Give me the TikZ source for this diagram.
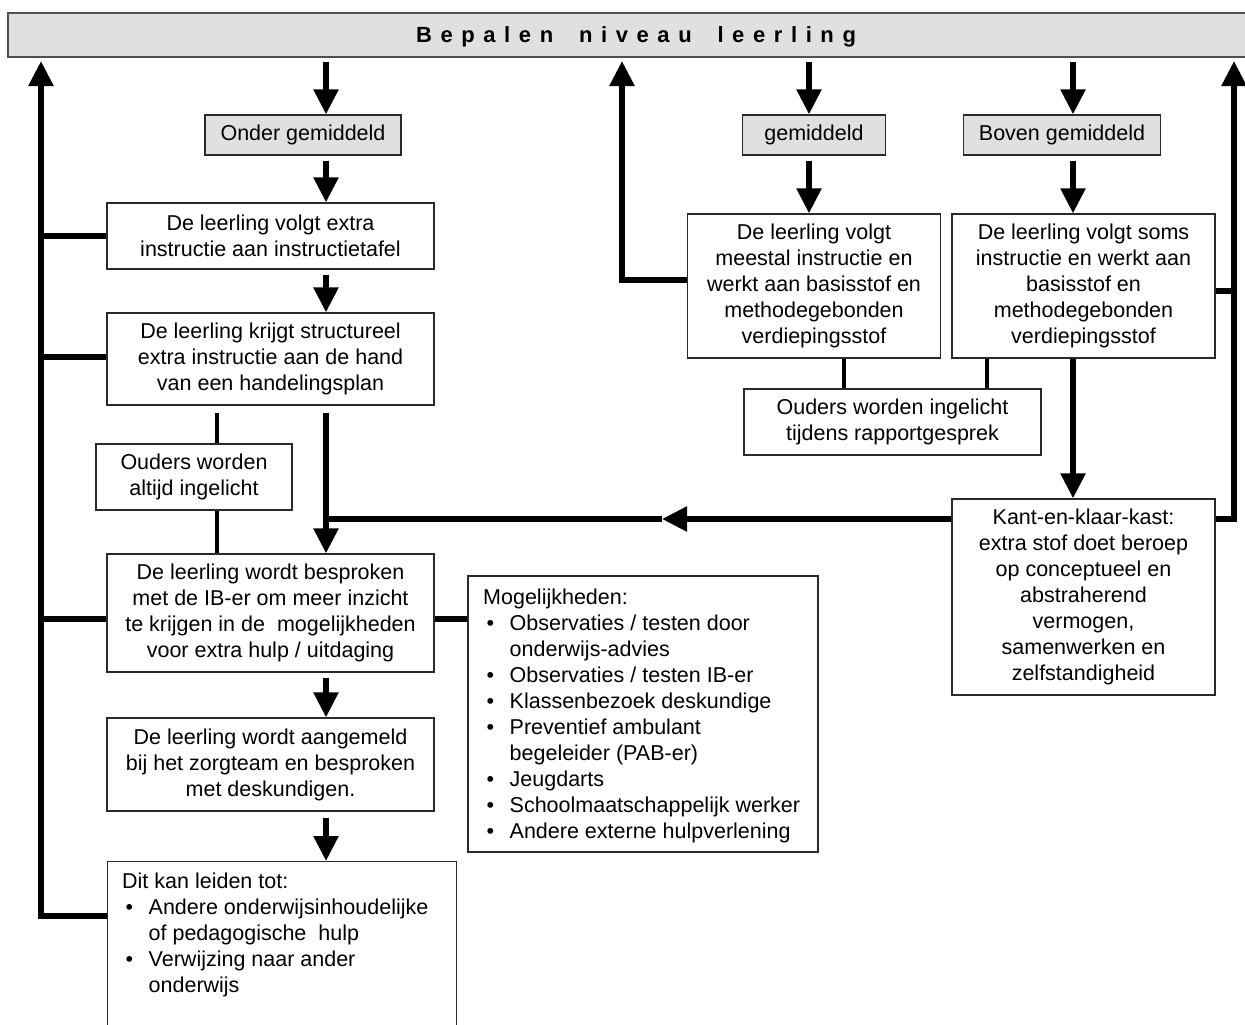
\documentclass[tikz,border=0pt]{standalone}
\usepackage{fontspec}
\setmainfont{Liberation Sans}
\usetikzlibrary{arrows.meta,calc}
\definecolor{boxgray}{HTML}{E0E0E0}
\definecolor{edge}{HTML}{2A2A2A}
\definecolor{barline}{HTML}{505050}
\newcommand\bfont{\fontsize{21.5pt}{26pt}\selectfont}
\newcommand\bulit{\makebox[26.5pt][l]{\hspace{3.5pt}•}}
\newcommand\indit{\hspace*{26.5pt}}
\begin{document}
\begin{tikzpicture}[x=1pt,y=-1pt,
  box/.style={draw=edge, line width=1.3pt, fill=white, align=center, inner sep=0pt, font=\bfont},
  graybox/.style={box, fill=boxgray},
  txt/.style={anchor=west, align=left, inner sep=0pt, font=\bfont},
  conn/.style={line width=5.5pt, black, line join=miter},
  thinconn/.style={line width=4.5pt, black},
  arr/.style={conn, -{Triangle[length=25pt,width=24pt]}},
]
\useasboundingbox (0,0) rectangle (1245,1025);
\clip (0,0) rectangle (1245,1025);
\fill[white] (0,0) rectangle (1245,1025);

% top bar
\node[draw=barline, line width=1.6pt, fill=boxgray, minimum width=1262pt, minimum height=44pt, anchor=north west, inner sep=0pt] (bar) at (7,12) {};
\node[font=\fontsize{22pt}{26pt}\selectfont\bfseries, inner sep=0pt, anchor=base] (title) at (636,43) {\spaceskip=8.6pt B e p a l e n\hspace{25.8pt}n i v e a u\hspace{25.8pt}l e e r l i n g};

% level boxes
\node[graybox, minimum width=196pt, minimum height=40pt] (onder) at (303,135) {Onder gemiddeld};
\node[graybox, minimum width=143pt, minimum height=40pt] (gem) at (814,135) {gemiddeld};
\node[graybox, minimum width=197pt, minimum height=40pt] (boven) at (1062,135) {Boven gemiddeld};

% left column
\node[box, minimum width=327pt, minimum height=66pt] (extra) at (270.5,236) {De leerling volgt extra\\instructie aan instructietafel};
\node[box, minimum width=327pt, minimum height=92pt] (krijgt) at (270.5,359) {De leerling krijgt structureel\\extra instructie aan de hand\\van een handelingsplan};
\node[box, minimum width=196pt, minimum height=66pt] (ouders1) at (194,477) {Ouders worden\\altijd ingelicht};
\node[box, minimum width=327pt, minimum height=118pt] (bespr) at (270.5,613) {De leerling wordt besproken\\met de IB-er om meer inzicht\\te krijgen in de \ mogelijkheden\\voor extra hulp / uitdaging};
\node[box, minimum width=327pt, minimum height=93pt] (aanm) at (270.5,764.5) {De leerling wordt aangemeld\\bij het zorgteam en besproken\\met deskundigen.};
\node[box, minimum width=349pt, minimum height=200pt, anchor=north west] (dit) at (107,861) {};
\node[txt] (dittext) at (122,935) {Dit kan leiden tot:\\ \bulit Andere onderwijsinhoudelijke\\ \indit of pedagogische \ hulp\\ \bulit Verwijzing naar ander\\ \indit onderwijs};

% possibilities
\node[box, minimum width=350pt, minimum height=276pt] (mog) at (643,714) {};
\node[txt] (mogtext) at (483,716) {Mogelijkheden:\\ \bulit Observaties / testen door\\ \indit onderwijs-advies\\ \bulit Observaties / testen IB-er\\ \bulit Klassenbezoek deskundige\\ \bulit Preventief ambulant\\ \indit begeleider (PAB-er)\\ \bulit Jeugdarts\\ \bulit Schoolmaatschappelijk werker\\ \bulit Andere externe hulpverlening};

% right columns
\node[box, minimum width=253pt, minimum height=144pt] (meestal) at (814,286) {De leerling volgt\\meestal instructie en\\werkt aan basisstof en\\methodegebonden\\verdiepingsstof};
\node[box, minimum width=263pt, minimum height=144pt] (soms) at (1083.5,286) {De leerling volgt soms\\instructie en werkt aan\\basisstof en\\methodegebonden\\verdiepingsstof};
\node[box, minimum width=297pt, minimum height=66pt] (ouders2) at (892.5,422) {Ouders worden ingelicht\\tijdens rapportgesprek};
\node[box, minimum width=263pt, minimum height=196pt] (kant) at (1083.5,597) {Kant-en-klaar-kast:\\extra stof doet beroep\\op conceptueel en\\abstraherend\\vermogen,\\samenwerken en\\zelfstandigheid};

% coordinates
\coordinate (x1) at (326,62);
\coordinate (x2) at (809,62);
\coordinate (x3) at (1073,62);
\coordinate (xo) at (217,0);
\coordinate (xo2) at (844,0);
\coordinate (xo3) at (987,0);
\coordinate (ltop) at (41,61);
\coordinate (lbot) at (41,916);
\coordinate (lb2) at (41,357);
\coordinate (lb3) at (41,619);
\coordinate (mtop) at (622,61);
\coordinate (mm) at (622,280);
\coordinate (rtop) at (1234,61);
\coordinate (rk) at (1234,519);
\coordinate (rs) at (1234,291);
\coordinate (hm) at (662,519);
\coordinate (hl) at (323.25,519);

% down arrows
\draw[arr] (x1) -- (onder.north -| x1);
\draw[arr] (x2) -- (gem.north -| x2);
\draw[arr] (x3) -- (boven.north -| x3);
\draw[arr] ($(onder.south -| x1)+(0,5)$) -- (extra.north -| x1);
\draw[arr] ($(gem.south -| x2)+(0,5)$) -- (meestal.north -| x2);
\draw[arr] ($(boven.south -| x3)+(0,5)$) -- (soms.north -| x3);
\draw[arr] ($(extra.south -| x1)+(0,5)$) -- (krijgt.north -| x1);
\draw[arr] ($(krijgt.south -| x1)+(0,7)$) -- (bespr.north -| x1);
\draw[arr] ($(bespr.south -| x1)+(0,5)$) -- (aanm.north -| x1);
\draw[arr] ($(aanm.south -| x1)+(0,6)$) -- (dit.north -| x1);
\draw[arr] (soms.south -| x3) -- (kant.north -| x3);

% parents informed
\draw[thinconn] ($(krijgt.south -| xo)+(0,7)$) -- (ouders1.north -| xo);
\draw[thinconn] (ouders1.south -| xo) -- (bespr.north -| xo);
\draw[thinconn] (meestal.south -| xo2) -- (ouders2.north -| xo2);
\draw[thinconn] (soms.south -| xo3) -- (ouders2.north -| xo3);

% left feedback spine
\draw[arr] (dit.west |- lbot) -- (lbot) -- (ltop);
\draw[conn] (extra.west) -- (extra.west -| ltop);
\draw[conn] (krijgt.west |- lb2) -- (lb2);
\draw[conn] (bespr.west |- lb3) -- (lb3);
\draw[conn] (bespr.east |- lb3) -- (mog.west |- lb3);

% middle feedback
\draw[arr] (meestal.west |- mm) -- (mm) -- (mtop);

% right feedback
\draw[arr] (kant.east |- rk) -- (rk) -- (rtop);
\draw[conn] (soms.east |- rs) -- (rs);

% horizontal from kant-en-klaar-kast
\draw[arr] (kant.west |- hm) -- (hm);
\draw[conn] (hm) -- (hl);
\end{tikzpicture}
\end{document}
